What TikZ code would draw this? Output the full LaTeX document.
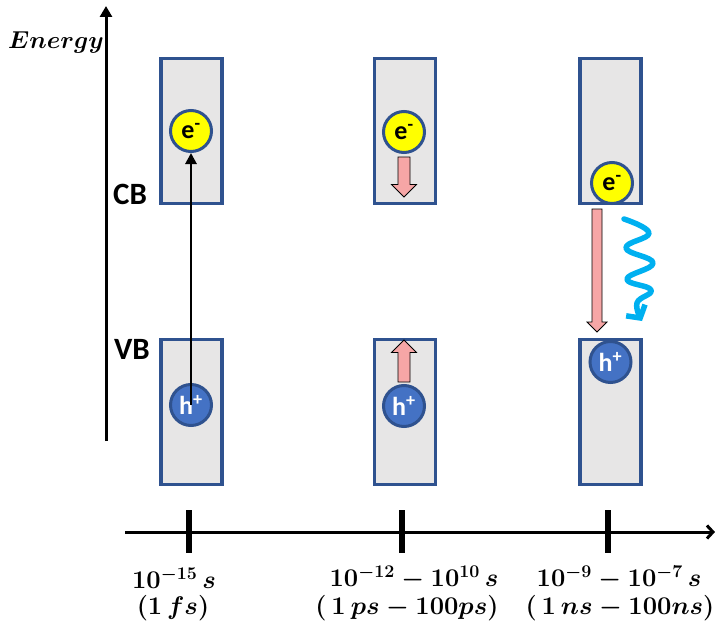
\RequirePackage{fix-cm}
\documentclass[tikz,border=0pt]{standalone}
\usepackage{fontspec}
\usepackage{amsmath}
\newfontfamily\calib{Carlito}
\usetikzlibrary{arrows.meta}
\definecolor{boxfill}{RGB}{231,230,230}
\definecolor{boxline}{RGB}{47,82,143}
\definecolor{holefill}{RGB}{68,114,196}
\definecolor{elecfill}{RGB}{255,255,0}
\definecolor{pinkarrow}{RGB}{246,166,166}
\definecolor{photon}{RGB}{0,176,240}
\newcommand\blockdown[5]{% x, ytop, ytip, shafthalf, headhalf
  \draw[pinkblock] (#1-#4,#2) -- (#1+#4,#2) -- (#1+#4,#3-#5) -- (#1+#5,#3-#5) -- (#1,#3) -- (#1-#5,#3-#5) -- (#1-#4,#3-#5) -- cycle;}
\newcommand\blockup[5]{% x, ybottom, ytip, shafthalf, headhalf
  \draw[pinkblock] (#1-#4,#2) -- (#1+#4,#2) -- (#1+#4,#3+#5) -- (#1+#5,#3+#5) -- (#1,#3) -- (#1-#5,#3+#5) -- (#1-#4,#3+#5) -- cycle;}
\begin{document}
\begin{tikzpicture}[x=1pt,y=-1pt,
  band/.style={draw=boxline, line width=3.2pt, fill=boxfill, minimum width=61pt, minimum height=145pt, inner sep=0pt},
  elec/.style={circle, draw=boxline, line width=3pt, fill=elecfill, minimum size=41pt, inner sep=0pt,
    font=\calib\bfseries\fontsize{26}{26}\selectfont},
  hole/.style={circle, draw=boxline, line width=3pt, fill=holefill, minimum size=41pt, inner sep=0pt, text=white,
    font=\calib\bfseries\fontsize{26}{26}\selectfont},
  pinkblock/.style={draw=black, line width=0.8pt, fill=pinkarrow},
  bandlabel/.style={font=\calib\bfseries\fontsize{31}{31}\selectfont, inner sep=0pt},
  timelabel/.style={font=\fontsize{25.5}{28}\selectfont\boldmath, inner sep=0pt},
  axis/.style={line width=3pt}
]
\useasboundingbox (0,0) rectangle (715,626);

% energy axis
\coordinate (ebot) at (106,441);
\coordinate (etop) at (106,6);
\draw[axis, -{Triangle[length=11pt,width=12pt]}] (ebot) -- (etop);
\node[font=\fontsize{24.5}{25}\selectfont\boldmath, inner sep=0pt] (elabel) at (56,42) {$Energy$};

% band labels
\node[bandlabel] (cb) at (130,194) {CB};
\node[bandlabel] (vb) at (132,349) {VB};

% bands
\node[band] (cb1) at (191.5,131) {};
\node[band] (vb1) at (191.5,412) {};
\node[band] (cb2) at (405,131) {};
\node[band] (vb2) at (405,412) {};
\node[band] (cb3) at (610.5,131) {};
\node[band] (vb3) at (610.5,412) {};

% column 1
\node[elec] (e1) at (191,131) {e\textsuperscript{-}};
\node[hole] (h1) at (191,405) {h\textsuperscript{+}};
\draw[line width=2.8pt, -{Triangle[length=11pt,width=11pt]}] (h1.center) -- (e1.south);

% column 2
\node[elec] (e2) at (404,132) {e\textsuperscript{-}};
\node[hole] (h2) at (404,406) {h\textsuperscript{+}};
\blockdown{404}{157}{197}{6}{12.5}
\blockup{404}{382}{340}{6}{12.5}

% column 3
\node[elec] (e3) at (612,183) {e\textsuperscript{-}};
\node[hole] (h3) at (610.5,362) {h\textsuperscript{+}};
\blockdown{597}{209}{332}{5}{10}
\draw[photon, line width=5.5pt, line cap=round, line join=round, -{Straight Barb[length=9pt,width=22pt]}]
  plot[smooth, tension=0.75] coordinates {(624,219) (649,233) (626,248) (653,263) (627,279) (651,290) (637,303) (642,321)};

% time axis
\coordinate (tstart) at (125,532);
\coordinate (tend) at (715,532);
\draw[axis, -{Straight Barb[length=6pt,width=13pt]}] (tstart) -- (tend);
\foreach \tx/\nm in {189/t1, 402/t2, 608/t3}{
  \coordinate (\nm a) at (\tx,510);
  \coordinate (\nm b) at (\tx,553);
  \draw[line width=6pt] (\nm a) -- (\nm b);
}

% time labels
\node[timelabel] (l1a) at (174,578) {$10^{-15}\,s$};
\node[timelabel] (l1b) at (173,608) {$(1\,fs)$};
\node[timelabel] (l2a) at (414,578) {$10^{-12}-10^{10}\,s$};
\node[timelabel] (l2b) at (407,608) {$(\,1\,ps-100ps)$};
\node[timelabel] (l3a) at (619,578) {$10^{-9}-10^{-7}\,s$};
\node[timelabel] (l3b) at (620,608) {$(\,1\,ns-100ns)$};
\end{tikzpicture}
\end{document}
